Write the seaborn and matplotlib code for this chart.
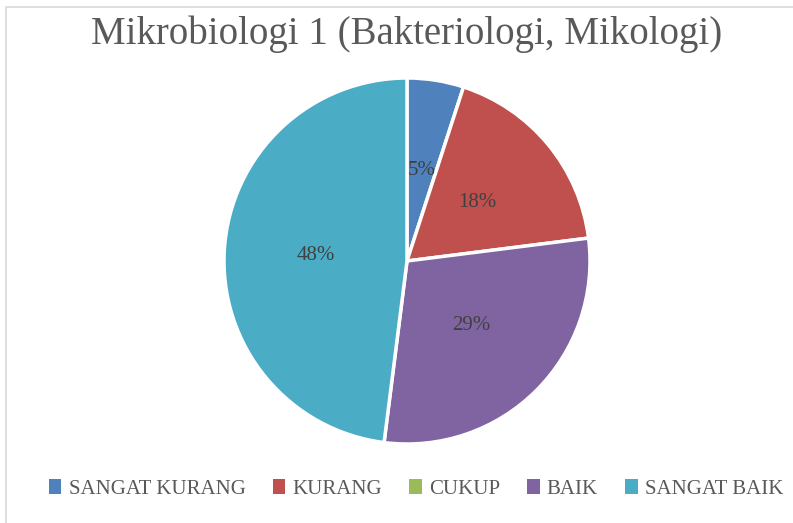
import matplotlib
matplotlib.use("Agg")
import matplotlib.pyplot as plt
import seaborn as sns
from matplotlib.patches import Patch, Rectangle

sns.set_theme(style="white")
plt.rcParams['font.family'] = ['Liberation Serif', 'DejaVu Serif']

categories = ["SANGAT KURANG", "KURANG", "CUKUP", "BAIK", "SANGAT BAIK"]
values = [5, 18, 0, 29, 48]
colors = ["#4F81BD", "#C0504D", "#9BBB59", "#8064A2", "#4BACC6"]
title = "Mikrobiologi 1 (Bakteriologi, Mikologi)"

fig = plt.figure(figsize=(7.93, 5.23), dpi=100)
fig.patch.set_facecolor("white")

# frame
fig.add_artist(Rectangle((6/793, -0.1), 1.2, (523 - 7) / 523 + 0.1, transform=fig.transFigure,
                         fill=False, edgecolor="#D9D9D9", linewidth=1.2))

cx, cy, r = 407, 261, 183
ax = fig.add_axes([(cx - r) / 793, (523 - cy - r) / 523, 2 * r / 793, 2 * r / 523])

nz = [(v, c) for v, c in zip(values, colors) if v > 0]
vals = [v for v, _ in nz]
cols = [c for _, c in nz]

wedges, texts, autotexts = ax.pie(
    vals, colors=cols, startangle=90, counterclock=False,
    autopct=lambda p: f"{p:.0f}%", pctdistance=0.5,
    wedgeprops=dict(edgecolor="white", linewidth=2.5),
    textprops=dict(color="#404040", fontsize=15),
)
ax.set_aspect("equal")
ax.set_xlim(-1, 1)
ax.set_ylim(-1, 1)
ax.axis("off")

fig.text(407 / 793, 1 - 34 / 523, title, ha="center", va="center",
         fontsize=28, color="#595959")

handles = [Patch(facecolor=c, edgecolor="none") for c in colors]
fig.legend(handles, categories, loc="center", bbox_to_anchor=(416 / 793, 1 - 489 / 523),
           ncol=5, frameon=False, fontsize=15, labelcolor="#595959",
           handlelength=0.6, handleheight=0.7, handletextpad=0.35, columnspacing=1.3)

fig.savefig("out.png", dpi=100, facecolor="white")
